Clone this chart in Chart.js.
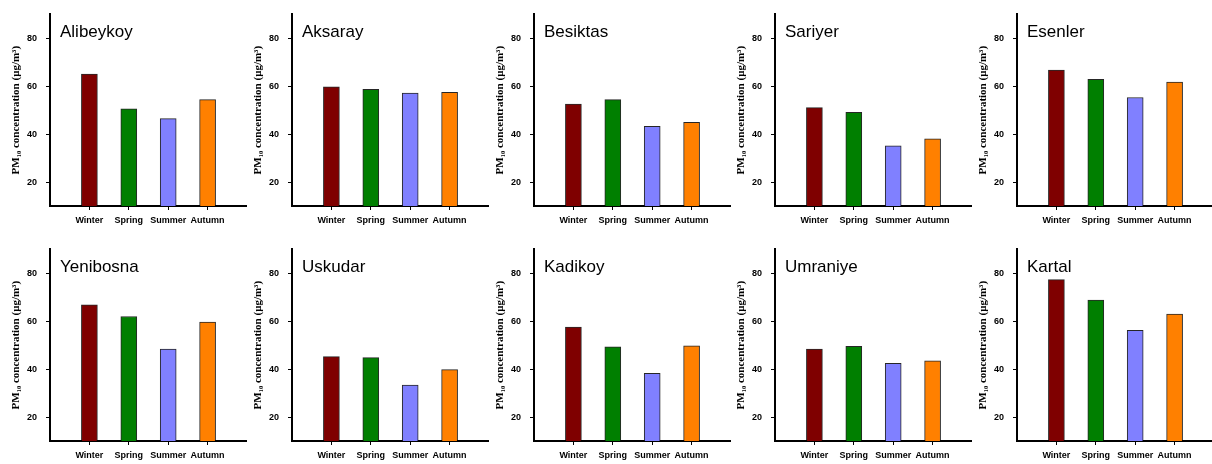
<!DOCTYPE html>
<html>
<head>
<meta charset="utf-8">
<script src="https://cdn.jsdelivr.net/npm/chart.js@4"></script>
<style>
  body { margin: 0; background: #fff; width: 1212px; height: 464px; overflow: hidden; position: relative; }
  canvas { position: absolute; }
</style>
</head>
<body>
<div id="panels"></div>
<script>
// Seasonal PM10 means per station
const seasons = ['Winter', 'Spring', 'Summer', 'Autumn'];
const seasonColors = ['#7f0000', '#007f00', '#8080ff', '#ff8000'];
const stations = ['Alibeykoy', 'Aksaray', 'Besiktas', 'Sariyer', 'Esenler',
                  'Yenibosna', 'Uskudar', 'Kadikoy', 'Umraniye', 'Kartal'];

const alibeykoy = [65.1, 50.6, 46.5, 54.4];
const aksaray   = [59.8, 58.7, 57.2, 57.5];
const besiktas  = [52.6, 54.4, 43.3, 44.9];
const sariyer   = [51.1, 49.1, 35.1, 38.0];
const esenler   = [66.8, 62.9, 55.3, 61.7];
const yenibosna = [66.9, 62.0, 48.4, 59.7];
const uskudar   = [45.2, 44.8, 33.4, 39.8];
const kadikoy   = [57.6, 49.3, 38.3, 49.7];
const umraniye  = [48.4, 49.5, 42.4, 43.5];
const kartal    = [77.4, 68.8, 56.2, 63.0];
const stationValues = [alibeykoy, aksaray, besiktas, sariyer, esenler,
                       yenibosna, uskudar, kadikoy, umraniye, kartal];

const yTicks = [20, 40, 60, 80];
const yTitle = 'PM\u2081\u2080 concentration (\u03bcg/m\u00b3)';

Chart.defaults.font.family = '"Liberation Sans", Arial, sans-serif';
Chart.defaults.color = '#000';

// station name written inside the plot, top left
const stationTitle = {
  id: 'stationTitle',
  afterDatasetsDraw(chart, args, opts) {
    const { ctx, chartArea } = chart;
    ctx.save();
    ctx.font = '17px "Liberation Sans", Arial, sans-serif';
    ctx.fillStyle = '#000';
    ctx.textBaseline = 'alphabetic';
    ctx.fillText(opts.text, chartArea.left + 10, chartArea.top + 23);
    ctx.restore();
  }
};

const lefts = [0, 242, 484, 725, 967];
const tops = [0, 235];
const holder = document.getElementById('panels');

stations.forEach((name, i) => {
  const canvas = document.createElement('canvas');
  canvas.width = 247;
  canvas.height = 232;
  canvas.style.left = lefts[i % 5] + 'px';
  canvas.style.top = tops[Math.floor(i / 5)] + 'px';
  holder.appendChild(canvas);

  const values = stationValues[i];

  new Chart(canvas.getContext('2d'), {
    type: 'bar',
    data: {
      datasets: [{
        data: values.map((v, k) => ({ x: k, y: v })),
        backgroundColor: seasonColors,
        borderColor: 'rgba(0,0,0,0.85)',
        borderWidth: 1,
        borderSkipped: 'bottom',
        barThickness: 16
      }]
    },
    plugins: [stationTitle],
    options: {
      responsive: false,
      animation: false,
      events: [],
      layout: { padding: { top: 9, right: 0, bottom: 0, left: 0 } },
      plugins: {
        legend: { display: false },
        tooltip: { enabled: false },
        stationTitle: { text: name }
      },
      scales: {
        x: {
          type: 'linear',
          min: -1,
          max: 4,
          offset: false,
          afterBuildTicks: s => { s.ticks = seasons.map((_, k) => ({ value: k })); },
          afterFit: s => { s.height = 26; },
          ticks: {
            callback: v => seasons[v],
            font: { size: 9, weight: 'bold' },
            padding: 5,
            maxRotation: 0,
            autoSkip: false
          },
          grid: { offset: false, drawOnChartArea: false, drawTicks: true, tickLength: 4, color: '#000', lineWidth: 1 },
          border: { display: true, color: '#000', width: 2 }
        },
        y: {
          min: 10,
          max: 90,
          afterBuildTicks: s => { s.ticks = yTicks.map(v => ({ value: v })); },
          afterFit: s => { s.width = 50; },
          ticks: {
            font: { size: 9, weight: 'bold' },
            padding: 9
          },
          grid: { drawOnChartArea: false, drawTicks: true, tickLength: 4, color: '#000', lineWidth: 1 },
          border: { display: true, color: '#000', width: 2 },
          title: {
            display: true,
            text: yTitle,
            font: { family: '"Liberation Serif", "Times New Roman", serif', size: 11, weight: 'bold' },
            padding: { top: 10, bottom: 0 }
          }
        }
      }
    }
  });
});
</script>
</body>
</html>
